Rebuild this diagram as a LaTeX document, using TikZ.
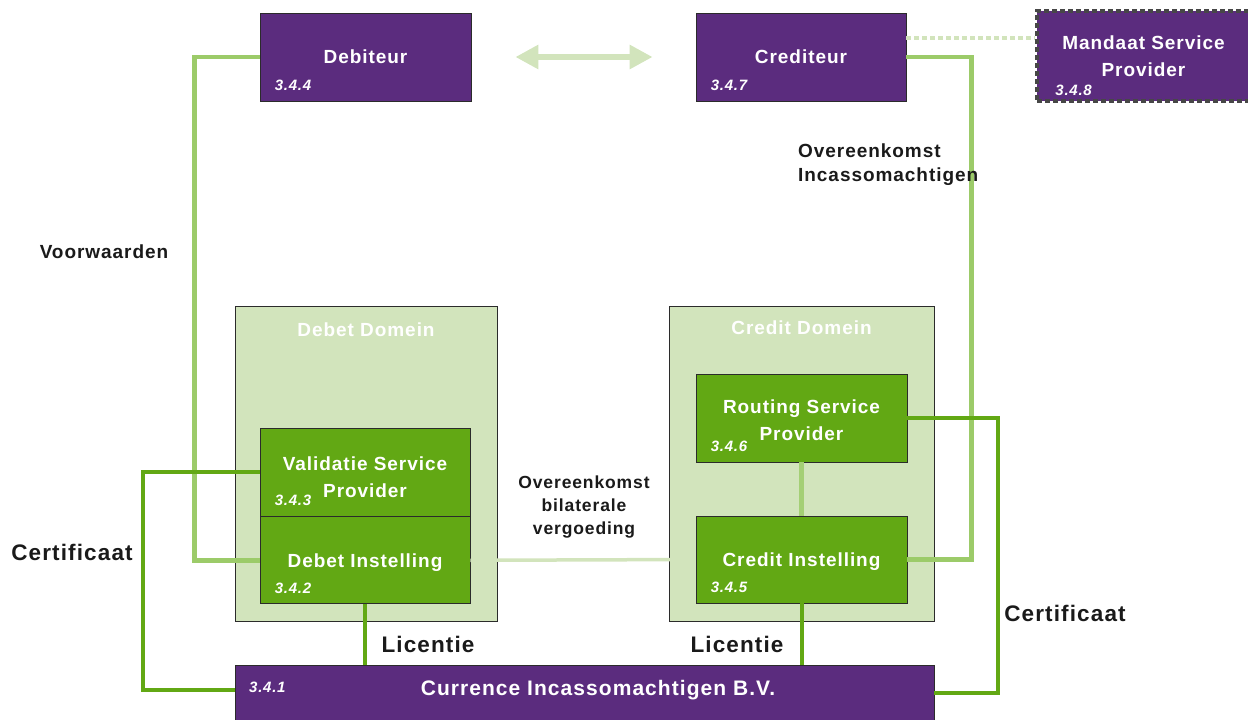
\documentclass[tikz,border=0pt]{standalone}
\usepackage{fontspec}
\setmainfont{Liberation Sans}[LetterSpace=5]
\usetikzlibrary{calc, arrows.meta, positioning}

\definecolor{imPurple}{HTML}{5B2C7E}
\definecolor{imGreen}{HTML}{62A814}
\definecolor{imLight}{HTML}{9CCB69}
\definecolor{imPale}{HTML}{D2E4BC}
\definecolor{boxline}{HTML}{2B2B2B}
\definecolor{labeltext}{HTML}{1A1A1A}

\newcommand{\boxfont}{\fontsize{19}{26.5}\selectfont\bfseries}
\newcommand{\nrfont}{\fontsize{15}{18}\selectfont\bfseries\itshape}
\newcommand{\linkfont}{\fontsize{17.5}{23}\selectfont\bfseries}
\newcommand{\bigfont}{\fontsize{22.5}{28}\selectfont\bfseries}

% number in the lower left corner of a box
\newcommand{\boxnr}[2]{\node[nr, anchor=base west] (#1nr) at ($(#1.south west)+(15,-11)$) {#2};}

\begin{document}
\begin{tikzpicture}[
   x=1pt, y=-1pt,
   purplebox/.style = {draw=boxline, line width=0.8pt, fill=imPurple, text=white, font=\boxfont,
                       minimum width=211pt, minimum height=88pt, align=center, inner sep=0pt},
   greenbox/.style = {purplebox, fill=imGreen},
   oneline/.style = {text depth=0pt},
   mandaatline/.style = {draw=black!72, line width=3.5pt, dash pattern=on 5pt off 3pt},
   domainbox/.style = {draw=boxline, line width=0.8pt, fill=imPale, minimum width=262pt, minimum height=315pt},
   boxtext/.style = {text=white, font=\boxfont, align=center, inner sep=0pt},
   nr/.style = {text=white, font=\nrfont, inner sep=0pt},
   darklink/.style = {draw=imGreen, line width=4pt},
   lightlink/.style = {draw=imLight, line width=4.5pt},
   palelink/.style = {draw=imPale, line width=3.5pt},
   dotlink/.style = {draw=imPale, line width=4pt, dash pattern=on 5pt off 3pt},
   pairarrow/.style = {draw=imPale, line width=6pt, {Triangle[length=23pt, width=23pt]}-{Triangle[length=23pt, width=23pt]}},
   linklabel/.style = {text=labeltext, font=\linkfont, align=center, inner sep=0pt},
   biglabel/.style = {text=labeltext, font=\bigfont, inner sep=0pt}]
   \useasboundingbox (0,0) rectangle (1248,720);

   % domains
   \node[domainbox] (debetdom) at (366,463.5) {};
   \node[domainbox, minimum width=265pt] (creditdom) at (801.5,463.5) {};
   \node[boxtext, below=17pt of debetdom.north] (debetdomtxt) {Debet Domein};
   \node[boxtext, below=15pt of creditdom.north] (creditdomtxt) {Credit Domein};

   % parties
   \node[purplebox, oneline] (debiteur) at (365.5,57) {Debiteur};
   \node[purplebox, oneline, minimum width=210pt] (crediteur) at (801,57) {Crediteur};
   \node[purplebox, mandaatline, minimum width=213pt, minimum height=90pt] (mandaat) at (1143.5,56) {Mandaat Service\\Provider};

   \node[greenbox, minimum width=210pt] (validatie) at (365,472) {};
   \node[boxtext] (validatietxt) at ([yshift=-5pt]validatie.center) {Validatie Service\\Provider};
   \node[greenbox, oneline, minimum width=210pt, minimum height=87pt, below=0pt of validatie] (debet) {Debet Instelling};
   \node[greenbox] (routing) at (801.5,418) {};
   \node[boxtext] (routingtxt) at ([yshift=-2pt]routing.center) {Routing Service\\Provider};
   \node[greenbox, oneline, minimum height=87pt] (credit) at (801.5,559.5) {Credit Instelling};

   \node[purplebox, minimum width=699pt, minimum height=65pt] (currence) at (584.5,697.5) {};
   \node[boxtext, font=\fontsize{21}{26}\selectfont\bfseries] (currencetxt) at (598,690) {Currence Incassomachtigen B.V.};
   \node[nr, anchor=base west] (currencenr) at (249,692) {3.4.1};

   \boxnr{debiteur}{3.4.4}
   \boxnr{crediteur}{3.4.7}
   \node[nr, anchor=base west] (mandaatnr) at ($(mandaat.south west)+(20,-7)$) {3.4.8};
   \boxnr{validatie}{3.4.3}
   \boxnr{debet}{3.4.2}
   \boxnr{routing}{3.4.6}
   \boxnr{credit}{3.4.5}

   \coordinate (currenceL) at ($(currence.north west)+(0,25)$);
   \coordinate (currenceR) at ($(currence.north east)+(0,28)$);
   \coordinate (dotstart) at ([yshift=19pt]crediteur.east);

   % connectors
   \draw[pairarrow] ([xshift=44pt]debiteur.east) -- ([xshift=-43pt]crediteur.west);
   \draw[dotlink] (dotstart) -- (dotstart -| mandaat.west);

   \draw[lightlink] (debiteur.west) -- ++(-65,0) |- (debet.west);
   \draw[lightlink] (crediteur.east) -- ++(65,0) |- (credit.east);
   \draw[palelink] (debet.east) -- (credit.west);
   \draw[lightlink, draw=imLight!85!imPale] (routing.south) -- (credit.north);

   \draw[darklink] (validatie.west) -- ++(-117,0) |- (currenceL);
   \draw[darklink] (routing.east) -- ++(91,0) |- (currenceR);
   \draw[darklink] (debet.south) -- (debet.south |- currence.north);
   \draw[darklink] (credit.south) -- (credit.south |- currence.north);

   % labels
   \node[linklabel, font=\fontsize{19}{24}\selectfont\bfseries] (voorwaarden) at (104,252) {Voorwaarden};
   \node[linklabel, font=\fontsize{19}{24}\selectfont\bfseries, align=left, anchor=west] (incasso) at (798,165) {Overeenkomst\\Incassomachtigen};
   \node[linklabel] (bilateraal) at (584,507) {Overeenkomst\\bilaterale\\vergoeding};
   \node[biglabel] (certL) at (72,552) {Certificaat};
   \node[biglabel] (certR) at (1065,613) {Certificaat};
   \node[biglabel] (licL) at (428,644) {Licentie};
   \node[biglabel] (licR) at (737,644) {Licentie};
\end{tikzpicture}
\end{document}
